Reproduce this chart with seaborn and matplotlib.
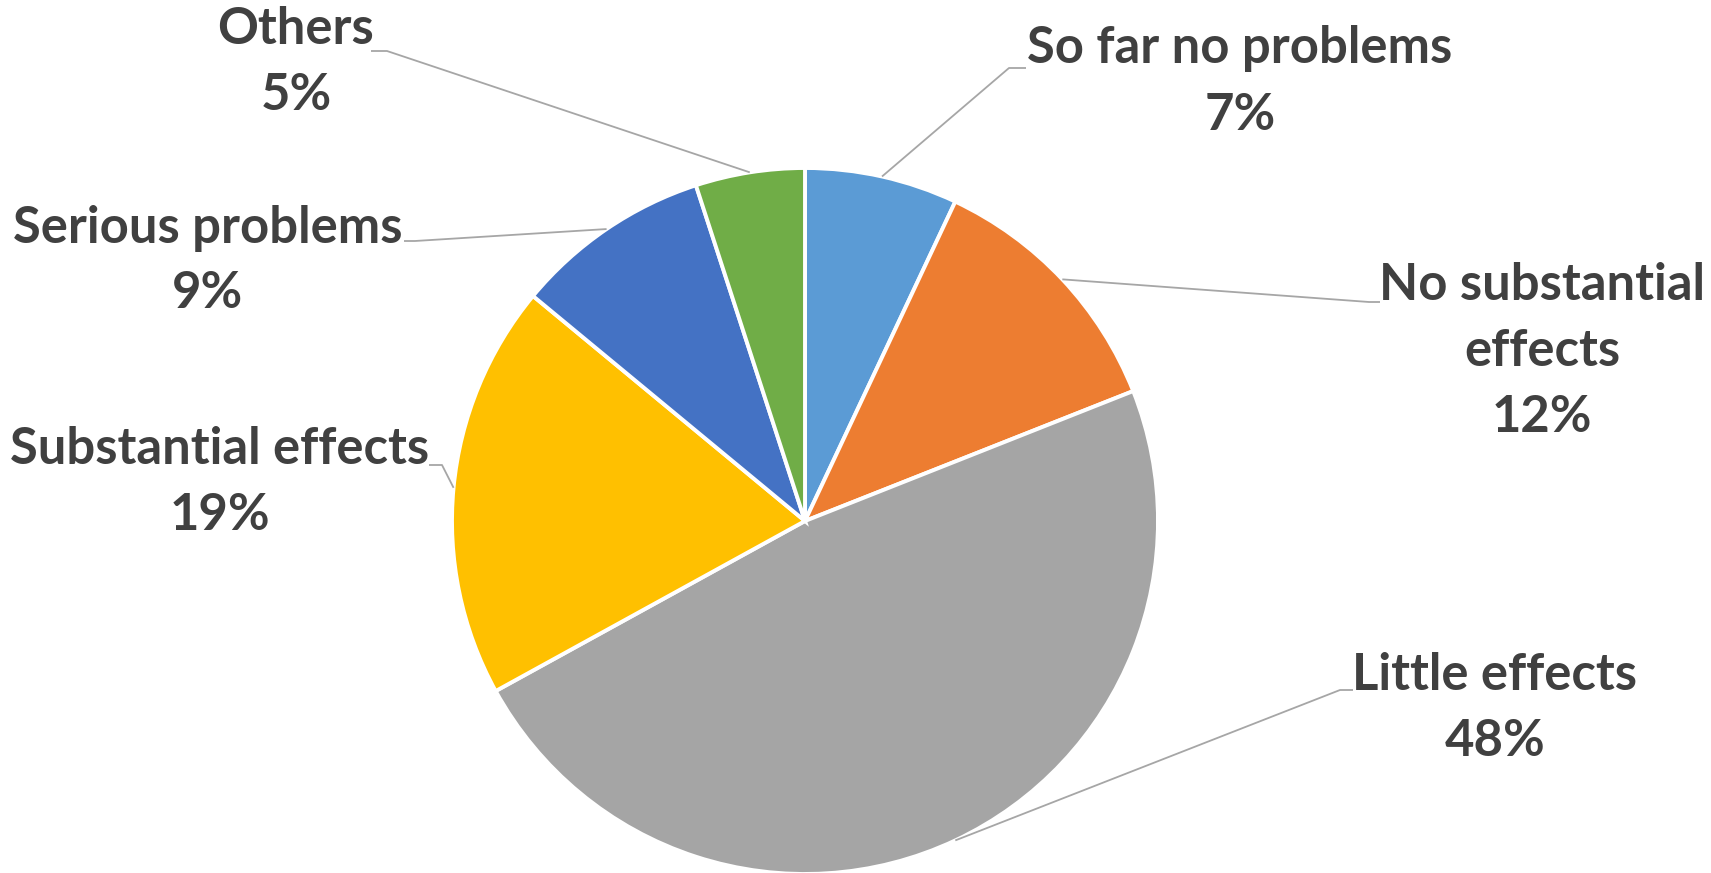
import matplotlib
matplotlib.use("Agg")
import matplotlib.pyplot as plt
import numpy as np
import seaborn as sns

# Survey answers, drawn clockwise from 12 o'clock
categories = ["So far no problems", "No substantial\neffects", "Little effects",
              "Substantial effects", "Serious problems", "Others"]
shares = [7, 12, 48, 19, 9, 5]
colors = ["#5B9BD5", "#ED7D31", "#A5A5A5", "#FFC000", "#4472C4", "#70AD47"]

W, H = 1711, 873

sns.set_theme(style="white")
plt.rcParams["font.family"] = ["Lato", "DejaVu Sans"]

fig = plt.figure(figsize=(W / 100, H / 100), dpi=100)
ax = fig.add_axes([0, 0, 1, 1])

cx, cy, radius = 805, H - 521, 353
wedges, _ = ax.pie(shares, colors=colors, startangle=90, counterclock=False,
                   center=(cx, cy), radius=radius, frame=True,
                   wedgeprops=dict(edgecolor="white", linewidth=2.8))

ax.set_xlim(0, W)
ax.set_ylim(0, H)
ax.set_aspect("equal", adjustable="box")
ax.axis("off")

# label block centres and leader elbows (x, y measured from the top edge)
label_pos = [(1240, 82), (1542, 352), (1495, 709), (220, 482), (208, 261), (296, 63)]
elbows = [[(1009, 68), (1026, 68)],
          [(1369, 302), (1380, 302)],
          [(1340, 690), (1353, 690)],
          [(442, 465), (429, 465)],
          [(415, 241), (404, 241)],
          [(387, 51), (371, 51)]]

line_color = "#A6A6A6"
text_color = "#404040"

for w, name, val, (lx, ly), elb in zip(wedges, categories, shares, label_pos, elbows):
    mid = np.deg2rad((w.theta1 + w.theta2) / 2)
    px = cx + radius * np.cos(mid)
    py = cy + radius * np.sin(mid)
    xs = [px] + [e[0] for e in elb]
    ys = [py] + [H - e[1] for e in elb]
    ax.plot(xs, ys, color=line_color, linewidth=1.3, solid_capstyle="butt", zorder=1)
    ax.text(lx, H - ly, f"{name}\n{val}%", ha="center", va="center",
            fontsize=36.5, fontweight="bold", color=text_color, linespacing=1.5)

fig.savefig("out.png", dpi=100)
